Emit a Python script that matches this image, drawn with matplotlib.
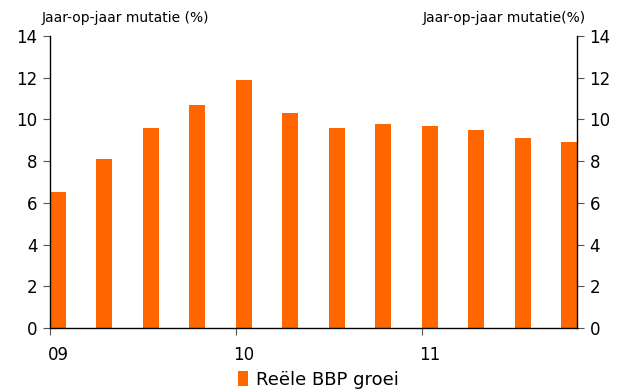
import matplotlib.pyplot as plt
from matplotlib.patches import Patch

# jaar-op-jaar reele BBP groei per kwartaal, 2009 t/m 2011
quarters = ["09Q1", "09Q2", "09Q3", "09Q4", "10Q1", "10Q2", "10Q3", "10Q4",
            "11Q1", "11Q2", "11Q3", "11Q4"]
gdp_growth = [6.5, 8.1, 9.6, 10.7, 11.9, 10.3, 9.6, 9.8, 9.7, 9.5, 9.1, 8.9]
year_ticks = [0, 4, 8]
year_labels = ["09", "10", "11"]
y_ticks = list(range(0, 15, 2))

orange = "#FF6600"
bar_w = 0.34

fig = plt.figure(figsize=(6.18, 3.9), dpi=100)
ax = fig.add_axes([50 / 618, 62 / 390, 527 / 618, 292 / 390])

x = list(range(len(quarters)))
ax.bar(x, gdp_growth, width=bar_w, align="edge", color=orange, edgecolor="none")

ax.set_xlim(0, len(quarters) - 1 + bar_w)
ax.set_ylim(0, 14)
ax.set_yticks(y_ticks)

# tick marks on the year boundaries, labels centred under the first bar
ax.set_xticks(year_ticks)
ax.set_xticklabels([])
ax.set_xticks([t + bar_w / 2 for t in year_ticks], minor=True)
ax.set_xticklabels(year_labels, minor=True)

ax.spines["top"].set_visible(False)
for side in ("left", "right", "bottom"):
    ax.spines[side].set_color("black")
    ax.spines[side].set_linewidth(1)

ax.tick_params(axis="y", which="both", left=True, right=True, labelleft=True,
               labelright=True, direction="out", length=5, color="#555555",
               labelsize=12, pad=4)
ax.tick_params(axis="x", which="major", direction="out", length=5, color="#555555")
ax.tick_params(axis="x", which="minor", length=0, labelsize=12, pad=13)

fig.text(42 / 618, 1 - 18 / 390, "Jaar-op-jaar mutatie (%)", fontsize=10,
         ha="left", va="center")
fig.text(586 / 618, 1 - 18 / 390, "Jaar-op-jaar mutatie(%)", fontsize=10,
         ha="right", va="center")

handle = Patch(facecolor=orange, edgecolor="none", label="Reële BBP groei")
fig.legend(handles=[handle], loc="center", bbox_to_anchor=(318 / 618, 1 - 380 / 390),
           frameon=False, fontsize=13, handlelength=0.6, handleheight=0.9,
           handletextpad=0.4)

fig.savefig("out.png", dpi=100)
